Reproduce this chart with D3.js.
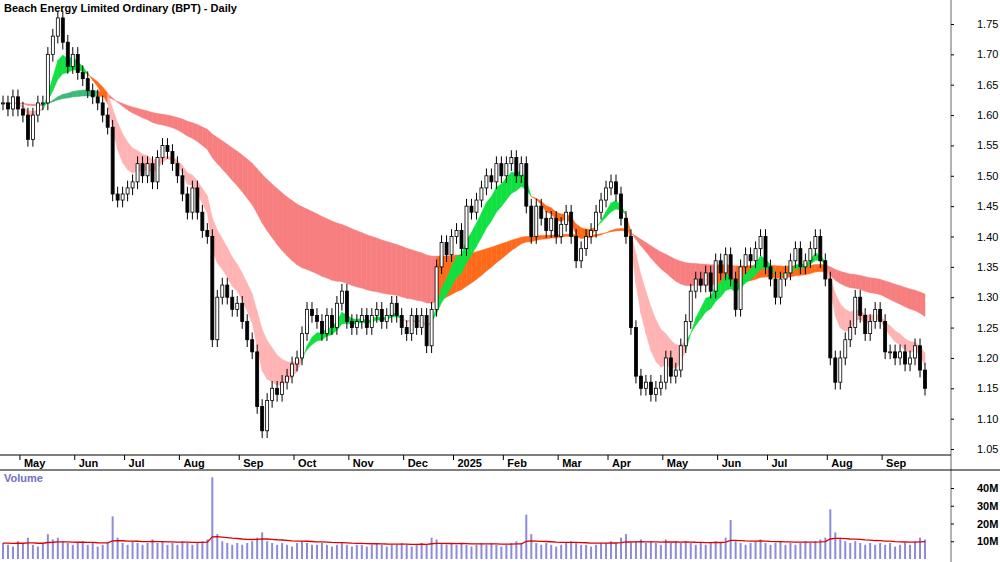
<!DOCTYPE html><html><head><meta charset="utf-8">
<script src="https://cdn.jsdelivr.net/npm/d3@7"></script>
<style>body{margin:0;background:#fff}svg{display:block;font-family:Arial,"Liberation Sans",sans-serif}</style>
</head><body><svg id="c" width="1000" height="562"></svg><script>
const closes=[1.62,1.61,1.63,1.61,1.60,1.56,1.60,1.62,1.62,1.70,1.73,1.76,1.72,1.68,1.70,1.67,1.66,1.64,1.63,1.62,1.60,1.58,1.47,1.46,1.47,1.48,1.49,1.52,1.50,1.52,1.49,1.53,1.55,1.54,1.52,1.50,1.47,1.44,1.48,1.44,1.41,1.40,1.23,1.30,1.32,1.30,1.28,1.29,1.26,1.23,1.21,1.12,1.08,1.13,1.15,1.14,1.16,1.17,1.19,1.20,1.24,1.28,1.27,1.26,1.24,1.27,1.25,1.29,1.31,1.26,1.25,1.26,1.27,1.25,1.27,1.28,1.26,1.27,1.29,1.27,1.25,1.24,1.27,1.25,1.27,1.22,1.28,1.35,1.39,1.37,1.40,1.41,1.38,1.45,1.44,1.46,1.48,1.50,1.49,1.52,1.50,1.52,1.53,1.50,1.52,1.45,1.40,1.45,1.43,1.41,1.43,1.40,1.42,1.44,1.40,1.36,1.38,1.40,1.41,1.44,1.46,1.48,1.49,1.47,1.43,1.40,1.25,1.17,1.15,1.16,1.14,1.15,1.16,1.20,1.17,1.18,1.22,1.26,1.31,1.33,1.32,1.34,1.31,1.36,1.34,1.37,1.33,1.28,1.35,1.37,1.36,1.38,1.40,1.35,1.33,1.30,1.33,1.34,1.36,1.38,1.35,1.36,1.38,1.40,1.36,1.33,1.20,1.16,1.20,1.23,1.25,1.30,1.27,1.24,1.26,1.28,1.26,1.21,1.21,1.20,1.21,1.19,1.20,1.22,1.18,1.15];
const volumes=[9,8,7,10,9,12,8,7,9,14,11,12,10,9,8,9,10,8,9,7,8,9,24,12,9,8,10,9,8,9,11,9,10,8,9,8,10,9,8,9,10,11,46,14,10,9,8,9,8,9,10,12,15,10,9,8,9,8,7,9,10,9,8,8,9,8,7,8,9,8,7,8,8,7,8,9,8,7,8,8,9,8,7,8,9,8,12,11,9,8,9,8,9,8,7,8,9,8,9,8,7,8,9,10,9,25,14,9,8,9,8,7,8,9,10,9,8,8,7,8,9,9,10,9,12,14,9,10,11,9,10,9,8,11,9,10,9,10,9,8,9,8,9,10,9,12,22,10,9,8,9,10,11,9,8,9,10,8,9,8,9,10,9,10,11,12,28,15,12,10,9,10,9,8,9,8,9,8,9,7,8,9,8,10,12,11];
const monthLabels=["May","Jun","Jul","Aug","Sep","Oct","Nov","Dec","2025","Feb","Mar","Apr","May","Jun","Jul","Aug","Sep"];
const monthIdx=[5,16,26,37,49,60,71,82,92,102,113,123,134,145,155,167,178];
const yTicks=[1.05,1.10,1.15,1.20,1.25,1.30,1.35,1.40,1.45,1.50,1.55,1.60,1.65,1.70,1.75];
const vTicks=[10,20,30,40];

const svg=d3.select("#c");
const n=closes.length;
const x=d3.scaleLinear().domain([0,n-1]).range([3,925]);
const y=d3.scaleLinear().domain([1.05,1.75]).range([449,24]);
const yv=d3.scaleLinear().domain([0,40]).range([559,488]);
function ema(p){const k=2/(p+1);let e=closes[0];return closes.map(c=>e=c*k+e*(1-k));}
const e1=ema(6),e2=ema(12),l1=ema(45),l2=ema(90);
for(let i=1;i<n;i++){
  const smin=Math.min(e1[i],e2[i]),smax=Math.max(e1[i],e2[i]),lmin=Math.min(l1[i],l2[i]),lmax=Math.max(l1[i],l2[i]);
  const col=smin>lmax&&i<22?"#3cb878":(smax<lmin?"#f77f7f":"#ff6a1a");
  svg.append("path").attr("fill",col).attr("stroke",col).attr("stroke-width",0.5)
   .attr("d",`M${x(i-1)},${y(l1[i-1])}L${x(i)},${y(l1[i])}L${x(i)},${y(l2[i])}L${x(i-1)},${y(l2[i-1])}Z`);
}
for(let i=1;i<n;i++){
  const lmin=Math.min(l1[i],l2[i]);
  const col=e1[i]>e2[i]?"#10e040":(Math.max(e1[i],e2[i])<lmin?"#ffb3b3":"#ff6a1a");
  svg.append("path").attr("fill",col).attr("stroke",col).attr("stroke-width",0.5)
   .attr("d",`M${x(i-1)},${y(e1[i-1])}L${x(i)},${y(e1[i])}L${x(i)},${y(e2[i])}L${x(i-1)},${y(e2[i-1])}Z`);
}
closes.forEach((c,i)=>{
  const o=i?closes[i-1]:c;const hi=Math.max(o,c)+0.012,lo=Math.min(o,c)-0.012;
  const g=svg.append("g");
  g.append("line").attr("x1",x(i)).attr("x2",x(i)).attr("y1",y(hi)).attr("y2",y(lo)).attr("stroke","#000");
  const t=y(Math.max(o,c)),b=y(Math.min(o,c));
  g.append("rect").attr("x",x(i)-1.5).attr("width",3).attr("y",t).attr("height",Math.max(1,b-t))
   .attr("fill",c>=o?"#fff":"#000").attr("stroke","#000").attr("stroke-width",0.8);
});
svg.append("line").attr("x1",951).attr("x2",951).attr("y1",0).attr("y2",562).attr("stroke","#666");
svg.append("line").attr("x1",0).attr("x2",951).attr("y1",455).attr("y2",455).attr("stroke","#000");
svg.append("line").attr("x1",0).attr("x2",1000).attr("y1",470).attr("y2",470).attr("stroke","#000");
svg.append("g").attr("transform","translate(951,0)").call(d3.axisRight(y).tickValues(yTicks).tickFormat(d3.format(".2f")).tickSize(3))
 .call(g=>{g.select(".domain").remove();g.selectAll("text").attr("font-size",11).attr("dx",20);});
svg.append("g").attr("transform","translate(951,0)").call(d3.axisRight(yv).tickValues(vTicks).tickFormat(d=>d+"M").tickSize(3))
 .call(g=>{g.select(".domain").remove();g.selectAll("text").attr("font-size",11).attr("font-weight","bold").attr("dx",20);});
monthIdx.forEach((m,j)=>{
  const xx=x(m)-8;
  svg.append("line").attr("x1",xx).attr("x2",xx).attr("y1",455).attr("y2",460).attr("stroke","#000");
  svg.append("text").attr("x",xx+4).attr("y",467).attr("font-size",11).attr("font-weight","bold").text(monthLabels[j]);
});
volumes.forEach((v,i)=>svg.append("rect").attr("x",x(i)-1).attr("width",2).attr("y",yv(v)).attr("height",yv(0)-yv(v)).attr("fill","#8c8cd8"));
let va=volumes[0];const vma=volumes.map(v=>va=va+(v-va)*0.08);
svg.append("path").datum(vma).attr("fill","none").attr("stroke","#e00000").attr("stroke-width",1.3)
 .attr("d",d3.line().x((d,i)=>x(i)).y(d=>yv(d)));
svg.append("text").attr("x",4).attr("y",12).attr("font-size",11).attr("font-weight","bold").text("Beach Energy Limited Ordinary (BPT) - Daily");
svg.append("text").attr("x",4).attr("y",482).attr("font-size",11).attr("font-weight","bold").attr("fill","#7070c0").text("Volume");
</script></body></html>
